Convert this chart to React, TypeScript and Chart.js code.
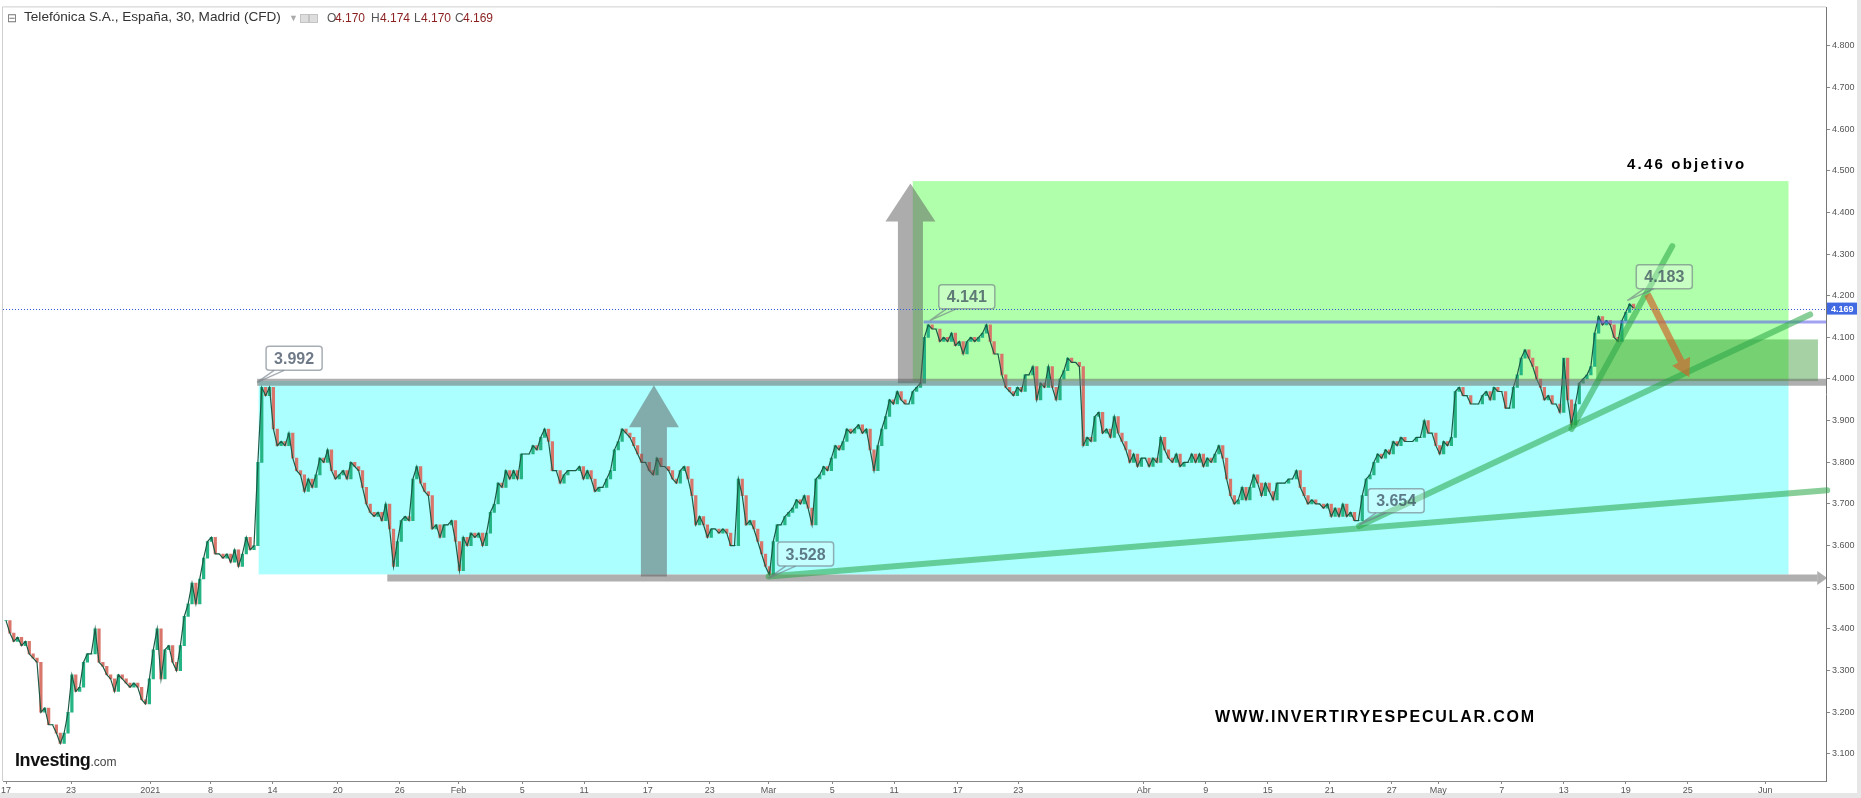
import React, { useEffect, useRef } from "react";
import { Chart, registerables } from "chart.js";

Chart.register(...registerables);

// ---------- data ----------
// one price sample every quarter of a trading day, starting 17 Dec 2020
const STEP_DAYS = 0.25;

const decPrices = [
  3.42, 3.39, 3.37, 3.38, 3.36, 3.37, 3.34, 3.33, 3.32, 3.2,
  3.21, 3.17, 3.17, 3.15, 3.125, 3.15, 3.2, 3.29, 3.25, 3.26,
  3.32, 3.34, 3.34, 3.4, 3.32, 3.31, 3.29, 3.28, 3.25, 3.29,
  3.28, 3.27, 3.26, 3.27, 3.26, 3.23, 3.22,
];
const janPrices = [
  3.28, 3.35, 3.4, 3.28, 3.35, 3.36, 3.32, 3.3, 3.36, 3.43,
  3.46, 3.51, 3.46, 3.52, 3.57, 3.61, 3.62, 3.58, 3.58, 3.57,
  3.58, 3.56, 3.59, 3.55, 3.58, 3.62, 3.59, 3.6, 3.8, 3.98,
  3.96, 3.98, 3.88, 3.84, 3.85, 3.84, 3.87, 3.81, 3.78, 3.77,
  3.73, 3.76, 3.74, 3.77, 3.81, 3.8, 3.83, 3.78, 3.76, 3.77,
  3.78, 3.76, 3.8, 3.79, 3.78, 3.74, 3.7, 3.68, 3.67, 3.68,
  3.66, 3.7, 3.64, 3.55, 3.61, 3.66, 3.67, 3.66, 3.76, 3.79,
  3.75, 3.73, 3.72, 3.64, 3.65, 3.62, 3.65, 3.65, 3.66, 3.61,
];
const febPrices = [
  3.54, 3.62, 3.6, 3.63, 3.62, 3.63, 3.6, 3.63, 3.68, 3.7,
  3.75, 3.74, 3.78, 3.76, 3.78, 3.76, 3.82, 3.82, 3.82, 3.84,
  3.83, 3.86, 3.88, 3.85, 3.78, 3.78, 3.75, 3.77, 3.78, 3.78,
  3.78, 3.79, 3.76, 3.78, 3.76, 3.73, 3.74, 3.74, 3.76, 3.78,
  3.83, 3.85, 3.88, 3.87, 3.86, 3.84, 3.82, 3.8, 3.8, 3.78,
  3.77, 3.81, 3.79, 3.79, 3.78, 3.76, 3.75, 3.78, 3.79, 3.76,
  3.72, 3.65, 3.67, 3.65, 3.62, 3.64, 3.64, 3.63, 3.64, 3.63,
  3.6, 3.6, 3.76, 3.72, 3.65, 3.66, 3.64, 3.61, 3.58, 3.55,
];
const marPrices = [
  3.53, 3.61, 3.65, 3.65, 3.67, 3.68, 3.69, 3.71, 3.7, 3.72,
  3.69, 3.65, 3.76, 3.77, 3.79, 3.78, 3.81, 3.84, 3.83, 3.85,
  3.88, 3.87, 3.88, 3.89, 3.87, 3.88, 3.83, 3.78, 3.84, 3.88,
  3.91, 3.95, 3.94, 3.97, 3.95, 3.94, 3.94, 3.97, 3.98, 3.99,
  4.1, 4.13, 4.12, 4.12, 4.09, 4.1, 4.09, 4.11, 4.08, 4.09,
  4.06, 4.09, 4.1, 4.09, 4.1, 4.11, 4.13, 4.09, 4.06, 4.06,
  4.01, 3.98, 3.97, 3.96, 3.98, 3.97, 4.01, 4.01, 4.03, 3.95,
  3.99, 3.98, 4.03, 3.98, 3.95, 4.0, 4.02, 4.05, 4.04, 4.04,
  4.03, 3.84, 3.86, 3.85, 3.91, 3.92, 3.87, 3.88, 3.86, 3.91,
  3.87, 3.85, 3.83, 3.8, 3.82, 3.79, 3.81,
];
const aprPrices = [
  3.81, 3.79, 3.81, 3.8, 3.86, 3.83, 3.81, 3.8, 3.82, 3.79,
  3.8, 3.8, 3.82, 3.8, 3.82, 3.79, 3.81, 3.8, 3.82, 3.84,
  3.81, 3.76, 3.72, 3.7, 3.71, 3.74, 3.71, 3.74, 3.77, 3.75,
  3.72, 3.75, 3.73, 3.71, 3.75, 3.75, 3.75, 3.76, 3.76, 3.78,
  3.74, 3.72, 3.7, 3.71, 3.7, 3.7, 3.69, 3.7, 3.67, 3.69,
  3.67, 3.7, 3.67, 3.68, 3.66, 3.66, 3.72, 3.76, 3.77, 3.8,
  3.82, 3.81, 3.83, 3.82, 3.85, 3.84, 3.86, 3.85, 3.85, 3.85,
  3.86, 3.86, 3.9, 3.87, 3.87, 3.84,
];
const mayPrices = [
  3.82, 3.85, 3.84, 3.86, 3.97, 3.98, 3.96, 3.96, 3.94, 3.94,
  3.94, 3.96, 3.97, 3.95, 3.98, 3.97, 3.97, 3.93, 3.93, 3.98,
  4.01, 4.05, 4.07, 4.05, 4.03, 4.0, 3.98, 3.95, 3.96, 3.94,
  3.94, 3.92, 4.05, 3.95, 3.89, 3.94, 3.99, 4.0, 4.01, 4.03,
  4.11, 4.15, 4.13, 4.14, 4.13, 4.1, 4.09, 4.14, 4.16, 4.18,
  4.17,
];

// axis ticks (trading-day positions)
const xTickLabels = ["17", "23", "2021", "8", "14", "20", "26", "Feb", "5", "11", "17", "23", "Mar", "5", "11", "17", "23", "Abr", "9", "15", "21", "27", "May", "7", "13", "19", "25", "Jun"];
const xTickDays = [0, 4.2, 9.3, 13.2, 17.2, 21.4, 25.4, 29.2, 33.3, 37.3, 41.4, 45.4, 49.2, 53.3, 57.3, 61.4, 65.3, 73.4, 77.4, 81.4, 85.4, 89.4, 92.4, 96.5, 100.5, 104.5, 108.5, 113.5];
const yTickValues = [4.8, 4.7, 4.6, 4.5, 4.4, 4.3, 4.2, 4.1, 4.0, 3.9, 3.8, 3.7, 3.6, 3.5, 3.4, 3.3, 3.2, 3.1];
const xRange = [-0.194, 117.42];
const yRange = [3.035, 4.892];

// drawings (day index, price)
const zoneRange = [16.3, 115.0, 3.531, 3.995];
const zoneTarget = [58.5, 115.0, 3.995, 4.475];
const zoneRetest = [102.6, 116.9, 3.995, 4.095];
const resistanceLine = [16.2, 117.42, 3.992];
const supportLine = [24.6, 117.5, 3.522];
const highLine = [59.2, 117.42, 4.137];
const lastPrice = 4.169;
const trendLong = [49.2, 3.526, 117.5, 3.733];
const trendMid = [87.3, 3.647, 116.4, 4.155];
const trendSteep = [101.0, 3.88, 107.5, 4.319];
const arrowUpA = [41.8, 3.526, 3.985];
const arrowUpB = [58.35, 3.99, 4.469];
const arrowDown = [105.9, 4.203, 108.6, 4.004];
const calloutTexts = ["3.992", "4.141", "3.528", "3.654", "4.183"];
const calloutDays = [16.2, 59.6, 49.2, 87.3, 104.6];
const calloutPrices = [3.992, 4.14, 3.522, 3.65, 4.188];

const FONT = '"Liberation Sans", Arial, sans-serif';

function upArrow(ctx: any, x: number, yBase: number, yTip: number, shaftW: number, headW: number, headH: number) {
  ctx.beginPath();
  ctx.moveTo(x - shaftW / 2, yBase);
  ctx.lineTo(x - shaftW / 2, yTip + headH);
  ctx.lineTo(x - headW / 2, yTip + headH);
  ctx.lineTo(x, yTip);
  ctx.lineTo(x + headW / 2, yTip + headH);
  ctx.lineTo(x + shaftW / 2, yTip + headH);
  ctx.lineTo(x + shaftW / 2, yBase);
  ctx.closePath();
  ctx.fill();
}

function slantArrow(ctx: any, x0: number, y0: number, x1: number, y1: number, shaftW: number, headW: number, headL: number) {
  const dx = x1 - x0, dy = y1 - y0;
  const len = Math.hypot(dx, dy);
  const ux = dx / len, uy = dy / len;
  const nx = -uy, ny = ux;
  const bx = x1 - ux * headL, by = y1 - uy * headL;
  ctx.beginPath();
  ctx.moveTo(x0 + nx * shaftW / 2, y0 + ny * shaftW / 2);
  ctx.lineTo(bx + nx * shaftW / 2, by + ny * shaftW / 2);
  ctx.lineTo(bx + nx * headW / 2, by + ny * headW / 2);
  ctx.lineTo(x1, y1);
  ctx.lineTo(bx - nx * headW / 2, by - ny * headW / 2);
  ctx.lineTo(bx - nx * shaftW / 2, by - ny * shaftW / 2);
  ctx.lineTo(x0 - nx * shaftW / 2, y0 - ny * shaftW / 2);
  ctx.closePath();
  ctx.fill();
}

const drawingsPlugin = {
  id: "drawings",
  beforeDraw(chart: any) {
    const { ctx, chartArea } = chart;
    ctx.save();
    ctx.fillStyle = "#ffffff";
    ctx.fillRect(0, 0, chart.width, chart.height);
    ctx.fillStyle = "#e6e6e6";
    ctx.fillRect(chart.width - 4, 0, 4, chart.height);
    ctx.fillRect(0, chart.height - 5, chart.width, 5);
    ctx.strokeStyle = "#cfcfcf";
    ctx.lineWidth = 1;
    ctx.beginPath();
    ctx.moveTo(chartArea.left - 0.5, chartArea.bottom);
    ctx.lineTo(chartArea.left - 0.5, chartArea.top - 0.5);
    ctx.lineTo(chartArea.right, chartArea.top - 0.5);
    ctx.stroke();
    ctx.restore();
  },
  beforeDatasetsDraw(chart: any) {
    const { ctx } = chart;
    const x = chart.scales.x, y = chart.scales.y;
    const rect = (z: number[], color: string) => {
      const l = x.getPixelForValue(z[0]), r = x.getPixelForValue(z[1]);
      const b = y.getPixelForValue(z[2]), t = y.getPixelForValue(z[3]);
      ctx.fillStyle = color;
      ctx.fillRect(l, t, r - l, b - t);
    };
    ctx.save();
    rect(zoneRange, "#abffff");
    rect(zoneTarget, "#b0ffaa");
    ctx.restore();
  },
  afterDatasetsDraw(chart: any) {
    const { ctx } = chart;
    const x = chart.scales.x, y = chart.scales.y;
    const px = (d: number) => x.getPixelForValue(d);
    const py = (p: number) => y.getPixelForValue(p);
    ctx.save();

    // darker retest zone
    ctx.fillStyle = "rgba(30,140,30,0.4)";
    {
      const l = px(zoneRetest[0]), r = px(zoneRetest[1]);
      const b = py(zoneRetest[2]), t = py(zoneRetest[3]);
      ctx.fillRect(l, t, r - l, b - t);
    }

    // resistance / support thick gray lines
    ctx.strokeStyle = "rgba(110,110,110,0.55)";
    ctx.lineWidth = 7;
    ctx.lineCap = "butt";
    ctx.beginPath();
    ctx.moveTo(px(resistanceLine[0]), py(resistanceLine[2]));
    ctx.lineTo(px(resistanceLine[1]), py(resistanceLine[2]));
    ctx.stroke();
    {
      const yy = py(supportLine[2]);
      const x0 = px(supportLine[0]), x1 = px(supportLine[1]);
      ctx.beginPath();
      ctx.moveTo(x0, yy);
      ctx.lineTo(x1 - 10, yy);
      ctx.stroke();
      ctx.fillStyle = "rgba(110,110,110,0.55)";
      ctx.beginPath();
      ctx.moveTo(x1 - 10, yy - 7);
      ctx.lineTo(x1, yy);
      ctx.lineTo(x1 - 10, yy + 7);
      ctx.closePath();
      ctx.fill();
    }

    // blue line at 4.141 high
    ctx.strokeStyle = "rgba(100,100,235,0.6)";
    ctx.lineWidth = 3;
    ctx.beginPath();
    ctx.moveTo(px(highLine[0]), py(highLine[2]));
    ctx.lineTo(px(highLine[1]), py(highLine[2]));
    ctx.stroke();

    // up arrows
    ctx.fillStyle = "rgba(90,90,90,0.5)";
    upArrow(ctx, px(arrowUpA[0]), py(arrowUpA[1]), py(arrowUpA[2]), 26, 50, 42);
    upArrow(ctx, px(arrowUpB[0]), py(arrowUpB[1]), py(arrowUpB[2]), 25, 50, 38);

    // trend lines
    ctx.strokeStyle = "rgba(40,165,70,0.55)";
    ctx.lineWidth = 6;
    ctx.lineCap = "round";
    for (const t of [trendLong, trendMid, trendSteep]) {
      ctx.beginPath();
      ctx.moveTo(px(t[0]), py(t[1]));
      ctx.lineTo(px(t[2]), py(t[3]));
      ctx.stroke();
    }

    // orange arrow down
    ctx.fillStyle = "rgba(205,105,45,0.7)";
    slantArrow(ctx, px(arrowDown[0]), py(arrowDown[1]), px(arrowDown[2]), py(arrowDown[3]), 7, 20, 18);

    // callouts
    ctx.font = `bold 16px ${FONT}`;
    ctx.textAlign = "center";
    ctx.textBaseline = "middle";
    calloutTexts.forEach((txt, i) => {
      const ax = px(calloutDays[i]), ay = py(calloutPrices[i]);
      const tw = ctx.measureText(txt).width;
      const bw = tw + 16, bh = 24;
      const cx = ax + 37, cy = ay - 24;
      const bx = cx - bw / 2, by = cy - bh / 2;
      ctx.fillStyle = "rgba(255,255,255,0.3)";
      ctx.strokeStyle = "rgba(110,120,130,0.6)";
      ctx.lineWidth = 1.5;
      ctx.lineCap = "butt";
      ctx.beginPath();
      ctx.moveTo(bx + 8, by + bh);
      ctx.lineTo(ax, ay);
      ctx.lineTo(bx + 18, by + bh);
      ctx.stroke();
      ctx.beginPath();
      ctx.roundRect(bx, by, bw, bh, 3);
      ctx.fill();
      ctx.stroke();
      ctx.fillStyle = "rgba(50,65,85,0.7)";
      ctx.fillText(txt, cx, cy + 1);
    });

    // dotted last-price line
    ctx.strokeStyle = "#3457d5";
    ctx.lineWidth = 1;
    ctx.setLineDash([1, 2]);
    ctx.beginPath();
    const yl = Math.round(py(lastPrice)) + 0.5;
    ctx.moveTo(chart.chartArea.left, yl);
    ctx.lineTo(chart.chartArea.right, yl);
    ctx.stroke();
    ctx.setLineDash([]);
    ctx.restore();
  },
  afterDraw(chart: any) {
    const { ctx, chartArea } = chart;
    const y = chart.scales.y;
    const yy = y.getPixelForValue(lastPrice);
    ctx.save();
    ctx.fillStyle = "#4169e1";
    ctx.fillRect(chartArea.right + 1, yy - 6, 30, 12);
    ctx.fillStyle = "#ffffff";
    ctx.font = `bold 9px ${FONT}`;
    ctx.textAlign = "left";
    ctx.textBaseline = "middle";
    ctx.fillText(lastPrice.toFixed(3), chartArea.right + 5, yy + 0.5);
    ctx.restore();
  },
};

export default function App() {
  const ref = useRef<HTMLCanvasElement>(null);

  useEffect(() => {
    const allPrices = [...decPrices, ...janPrices, ...febPrices, ...marPrices, ...aprPrices, ...mayPrices];
    const points = allPrices.map((p, i) => ({ x: i * STEP_DAYS, y: p }));
    // candle-like bodies: each step from the previous sample to this one
    const bodies = allPrices.map((p, i) => ({ x: i * STEP_DAYS, y: [i > 0 ? allPrices[i - 1] : p, p] }));
    const bodyColors = allPrices.map((p, i) => (i > 0 && p < allPrices[i - 1] ? "#d9766c" : "#25b484"));
    Chart.defaults.font.family = FONT;
    const chart = new Chart(ref.current as HTMLCanvasElement, {
      type: "line",
      data: {
        datasets: [
          {
            type: "bar",
            data: bodies,
            backgroundColor: bodyColors,
            barThickness: 2.6,
            grouped: false,
            order: 2,
          },
          {
            type: "line",
            data: points,
            borderColor: "#1c5a45",
            borderWidth: 1.2,
            pointRadius: 0,
            tension: 0,
            fill: false,
            order: 1,
          },
        ],
      },
      options: {
        animation: false,
        responsive: false,
        maintainAspectRatio: false,
        devicePixelRatio: 1,
        layout: { padding: { left: 3, top: 3, right: 0, bottom: 0 } },
        plugins: { legend: { display: false }, tooltip: { enabled: false } },
        scales: {
          x: {
            type: "linear",
            offset: false,
            min: xRange[0],
            max: xRange[1],
            afterBuildTicks: (s: any) => {
              s.ticks = xTickDays.map((v) => ({ value: v }));
            },
            afterFit: (s: any) => {
              s.height = 17;
            },
            ticks: {
              autoSkip: false,
              maxRotation: 0,
              padding: 1,
              color: "#555",
              font: { size: 9 },
              callback: (_v: any, i: number) => xTickLabels[i],
            },
            grid: { drawOnChartArea: false, tickLength: 3, color: "#888", offset: false },
            border: { color: "#888" },
          },
          y: {
            type: "linear",
            position: "right",
            min: yRange[0],
            max: yRange[1],
            afterBuildTicks: (s: any) => {
              s.ticks = yTickValues.map((v) => ({ value: v }));
            },
            afterFit: (s: any) => {
              s.width = 35;
            },
            ticks: {
              padding: 2,
              color: "#555",
              font: { size: 9 },
              callback: (v: any) => Number(v).toFixed(3),
            },
            grid: { drawOnChartArea: false, tickLength: 4, color: "#888" },
            border: { color: "#777" },
          },
        },
      },
      plugins: [drawingsPlugin],
    } as any);
    return () => chart.destroy();
  }, []);

  const hdr: React.CSSProperties = { position: "absolute", top: 11, fontSize: 12, lineHeight: "14px", whiteSpace: "nowrap" };
  return (
    <div style={{ position: "absolute", left: 0, top: 0, width: 1861, height: 798, overflow: "hidden", background: "#fff", fontFamily: FONT }}>
      <canvas ref={ref} width={1861} height={798} style={{ position: "absolute", left: 0, top: 0, width: 1861, height: 798 }} />
      <span style={{ ...hdr, left: 7, color: "#777" }}>⊟</span>
      <span style={{ ...hdr, left: 24, top: 10, color: "#333", fontSize: 13.6 }}>Telefónica S.A., España, 30, Madrid (CFD)</span>
      <span style={{ ...hdr, left: 289, color: "#aaa", fontSize: 9 }}>▼</span>
      <span style={{ position: "absolute", left: 300, top: 14, width: 7, height: 7, background: "#ddd", border: "1px solid #c4c4c4" }} />
      <span style={{ position: "absolute", left: 309, top: 14, width: 7, height: 7, background: "#ddd", border: "1px solid #c4c4c4" }} />
      <span style={{ ...hdr, left: 327, color: "#555" }}>O</span>
      <span style={{ ...hdr, left: 335, color: "#8b1f1f" }}>4.170</span>
      <span style={{ ...hdr, left: 371, color: "#555" }}>H</span>
      <span style={{ ...hdr, left: 380, color: "#8b1f1f" }}>4.174</span>
      <span style={{ ...hdr, left: 414, color: "#555" }}>L</span>
      <span style={{ ...hdr, left: 421, color: "#8b1f1f" }}>4.170</span>
      <span style={{ ...hdr, left: 455, color: "#555" }}>C</span>
      <span style={{ ...hdr, left: 463, color: "#8b1f1f" }}>4.169</span>
      <div style={{ position: "absolute", left: 1627, top: 155, fontSize: 15, fontWeight: "bold", letterSpacing: "2.2px", color: "#000", lineHeight: "17px", whiteSpace: "nowrap" }}>4.46 objetivo</div>
      <div style={{ position: "absolute", left: 1215, top: 708, fontSize: 16, fontWeight: "bold", letterSpacing: "1.8px", color: "#000", lineHeight: "18px", whiteSpace: "nowrap" }}>WWW.INVERTIRYESPECULAR.COM</div>
      <div style={{ position: "absolute", left: 15, top: 750, lineHeight: "20px", whiteSpace: "nowrap" }}>
        <span style={{ fontSize: 18, fontWeight: "bold", color: "#111", letterSpacing: "-0.4px" }}>Investing</span>
        <span style={{ fontSize: 12, color: "#444" }}>.com</span>
      </div>
    </div>
  );
}
